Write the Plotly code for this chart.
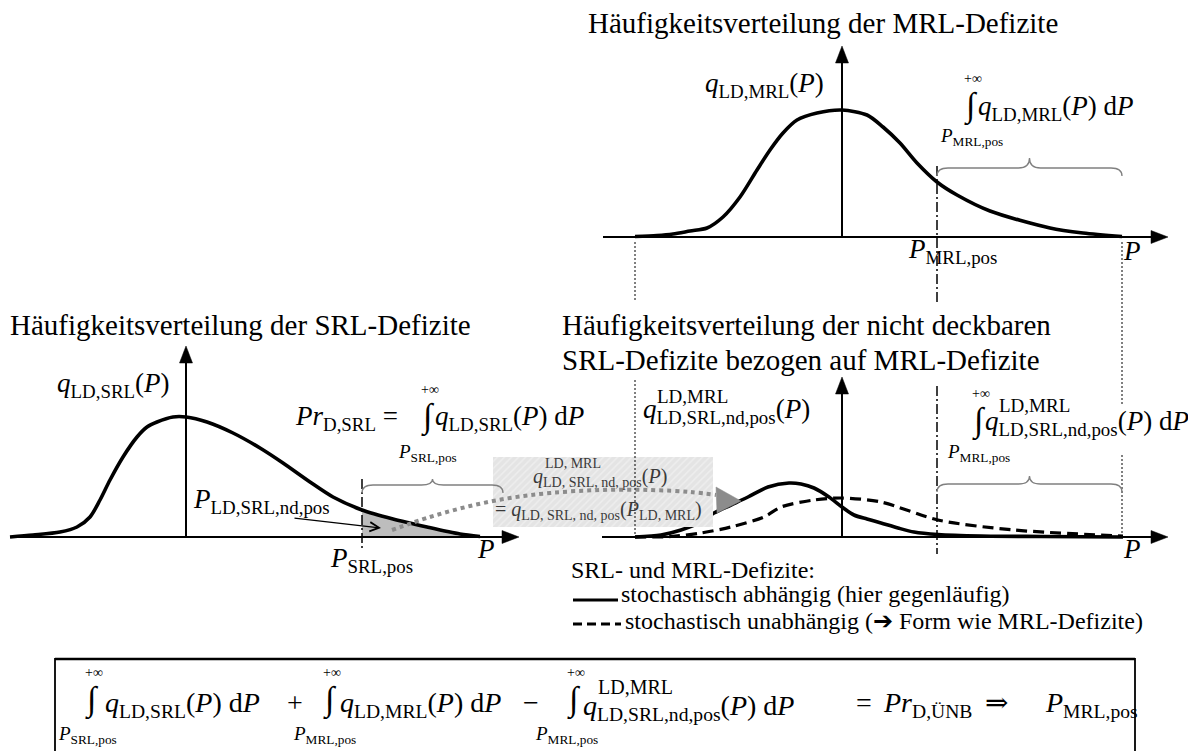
import plotly.graph_objects as go

W, H = 1188, 751
INK = "black"
GREY = "#808080"
BOXINK = "#3a3a3a"
FONT = "Liberation Serif, DejaVu Serif, serif"

# ---- distribution values (P in plot units, q relative frequency) ----
# MRL deficits
p_mrl = [-2.07, -1.85, -1.69, -1.52, -1.35, -1.19, -1.02, -0.85, -0.72, -0.59, -0.45,
         -0.25, 0.0, 0.25, 0.41, 0.58, 0.75, 0.95, 1.15, 1.48, 2.08, 2.41, 2.80]
q_mrl = [0.005, 0.015, 0.03, 0.06, 0.09, 0.20, 0.40, 0.67, 0.87, 1.04, 1.17,
         1.24, 1.27, 1.22, 1.10, 0.94, 0.74, 0.55, 0.42, 0.26, 0.09, 0.04, 0.005]

# SRL deficits
p_srl = [-1.76, -1.53, -1.26, -1.09, -0.96, -0.86, -0.76, -0.63, -0.49, -0.39, -0.29, -0.13,
         0.0, 0.21, 0.47, 0.74, 0.97, 1.24, 1.47, 1.76, 2.07, 2.41, 2.74, 2.94]
q_srl = [0.0, 0.02, 0.05, 0.10, 0.20, 0.37, 0.57, 0.80, 1.00, 1.10, 1.15, 1.20,
         1.20, 1.15, 1.04, 0.89, 0.74, 0.55, 0.40, 0.27, 0.18, 0.10, 0.03, 0.005]

# non-coverable SRL deficits related to MRL deficits, stochastically dependent
p_nd_dep = [-2.07, -1.81, -1.61, -1.41, -1.28, -1.11, -0.94, -0.74, -0.53, -0.41, -0.28,
            -0.13, 0.0, 0.12, 0.25, 0.39, 0.56, 0.72, 0.96, 1.39, 1.99, 2.81]
q_nd_dep = [0.0, 0.02, 0.07, 0.15, 0.24, 0.32, 0.40, 0.50, 0.54, 0.53, 0.49,
            0.40, 0.30, 0.22, 0.18, 0.14, 0.09, 0.05, 0.025, 0.01, 0.005, 0.0]

# ... and stochastically independent (shape like MRL deficits)
p_nd_ind = [-2.07, -1.71, -1.41, -1.11, -0.78, -0.61, -0.28, 0.0, 0.39, 0.96, 1.72, 2.81]
q_nd_ind = [0.0, 0.005, 0.04, 0.10, 0.20, 0.30, 0.37, 0.39, 0.35, 0.17, 0.07, 0.01]

P_SRL_POS = 1.76
P_MRL_POS = 0.95

# ---- panel frames: pixel origin of each P/q coordinate system ----
UNIT = 100
FR_MRL = (842, 237)
FR_SRL = (186, 537)
FR_ND = (842, 537)


def px(frame, p):
    return frame[0] + UNIT * p


def frame_axes(frame):
    ox, oy = frame
    xa = dict(domain=[0, 1], range=[-ox / UNIT, (W - ox) / UNIT], visible=False, fixedrange=True)
    ya = dict(domain=[0, 1], range=[(oy - H) / UNIT, oy / UNIT], visible=False, fixedrange=True)
    return xa, ya


fig = go.Figure()

# hatched box behind the transfer annotation
box = (493, 457, 713, 527)
fig.add_trace(go.Scatter(
    x=[box[0], box[2], box[2], box[0], box[0]], y=[box[1], box[1], box[3], box[3], box[1]],
    xaxis="x4", yaxis="y4", mode="lines", line=dict(width=0), fill="toself",
    fillcolor="#e9e9e9",
    fillpattern=dict(shape="/", fgcolor="#f7f7f7", bgcolor="#e4e4e4", size=5, solidity=0.3),
    hoverinfo="skip", showlegend=False))

# shaded tail of the SRL distribution beyond P_SRL,pos
tail_p = [p for p in p_srl if p >= P_SRL_POS]
tail_q = [q for p, q in zip(p_srl, q_srl) if p >= P_SRL_POS]
fig.add_trace(go.Scatter(x=tail_p, y=tail_q, xaxis="x2", yaxis="y2", mode="lines",
                         line=dict(width=0, shape="spline", smoothing=0.8), fill="tozeroy",
                         fillcolor="#bdbdbd", hoverinfo="skip", showlegend=False))

# curves
fig.add_trace(go.Scatter(x=p_mrl, y=q_mrl, xaxis="x", yaxis="y", mode="lines",
                         line=dict(color=INK, width=3.6, shape="spline", smoothing=0.8),
                         hoverinfo="skip", showlegend=False))
fig.add_trace(go.Scatter(x=p_srl, y=q_srl, xaxis="x2", yaxis="y2", mode="lines",
                         line=dict(color=INK, width=3.6, shape="spline", smoothing=0.8),
                         hoverinfo="skip", showlegend=False))
fig.add_trace(go.Scatter(x=p_nd_ind, y=q_nd_ind, xaxis="x3", yaxis="y3", mode="lines",
                         line=dict(color=INK, width=3.2, dash="11px,6px", shape="spline", smoothing=0.8),
                         hoverinfo="skip", showlegend=False))
fig.add_trace(go.Scatter(x=p_nd_dep, y=q_nd_dep, xaxis="x3", yaxis="y3", mode="lines",
                         line=dict(color=INK, width=3.6, shape="spline", smoothing=0.8),
                         hoverinfo="skip", showlegend=False))

# dotted grey transfer arrow (SRL tail -> dependent distribution)
arc_x = [392, 430, 470, 510, 550, 600, 650, 690, 716]
arc_y = [530, 517, 506, 498, 493, 490, 490, 492, 495]
fig.add_trace(go.Scatter(x=arc_x, y=arc_y, xaxis="x4", yaxis="y4", mode="lines",
                         line=dict(color="#8c8c8c", width=4, dash="dot", shape="spline"),
                         hoverinfo="skip", showlegend=False))

# legend line samples
fig.add_trace(go.Scatter(x=[573, 618], y=[600, 600], xaxis="x4", yaxis="y4", mode="lines",
                         line=dict(color=INK, width=3), hoverinfo="skip", showlegend=False))
fig.add_trace(go.Scatter(x=[573, 621], y=[624, 624], xaxis="x4", yaxis="y4", mode="lines",
                         line=dict(color=INK, width=3, dash="9px,5px"), hoverinfo="skip",
                         showlegend=False))

shapes = []


def seg(x0, y0, x1, y1, width=2, color=INK, dash=None):
    d = dict(type="line", xref="x4", yref="y4", x0=x0, y0=y0, x1=x1, y1=y1,
             line=dict(color=color, width=width))
    if dash:
        d["line"]["dash"] = dash
    shapes.append(d)


def tri(pts, color=INK):
    path = "M" + " L".join(f"{x},{y}" for x, y in pts) + " Z"
    shapes.append(dict(type="path", xref="x4", yref="y4", path=path,
                       fillcolor=color, line=dict(color=color, width=0.5)))


def axes_cross(frame, x_left, x_tip, y_tip):
    ox, oy = frame
    seg(x_left, oy, x_tip - 14, oy, 2)
    tri([(x_tip, oy), (x_tip - 17, oy - 6.5), (x_tip - 17, oy + 6.5)])
    seg(ox, oy, ox, y_tip + 14, 2)
    tri([(ox, y_tip), (ox - 6.5, y_tip + 17), (ox + 6.5, y_tip + 17)])


axes_cross(FR_MRL, 603, 1168, 46)
axes_cross(FR_SRL, 10, 519, 346)
axes_cross(FR_ND, 602, 1168, 377)

# dash-dot markers of the positive limits
DASHDOT = "10px,3px,2px,3px"
x_mrl_pos = px(FR_MRL, P_MRL_POS)
x_srl_pos = px(FR_SRL, P_SRL_POS)
seg(x_mrl_pos, 166, x_mrl_pos, 305, 1.5, dash=DASHDOT)
seg(x_mrl_pos, 386, x_mrl_pos, 554, 1.5, dash=DASHDOT)
seg(x_srl_pos, 479, x_srl_pos, 551, 1.5, dash=DASHDOT)

# dotted guides at the ends of the MRL support
x_lo = px(FR_MRL, p_mrl[0])
x_hi = px(FR_MRL, p_mrl[-1])
for a, b in [(242, 300), (380, 537)]:
    seg(x_lo, a, x_lo, b, 1, dash="2px,2px")
for a, b in [(242, 404), (455, 537)]:
    seg(x_hi, a, x_hi, b, 1, dash="2px,2px")


def brace(x0, x1, y_end, y_line, y_tip, r=11):
    xm = (x0 + x1) / 2
    path = (f"M{x0},{y_end} Q{x0},{y_line} {x0 + r},{y_line} L{xm - r},{y_line} "
            f"Q{xm},{y_line} {xm},{y_tip} Q{xm},{y_line} {xm + r},{y_line} "
            f"L{x1 - r},{y_line} Q{x1},{y_line} {x1},{y_end}")
    shapes.append(dict(type="path", xref="x4", yref="y4", path=path,
                       line=dict(color=GREY, width=1.3)))


brace(x_mrl_pos, x_hi, 176, 168, 158)
brace(x_srl_pos, 503, 493, 485, 479)
brace(x_mrl_pos, x_hi, 492, 484, 476)

# arrow head of the transfer arrow
tri([(741, 501), (716, 487), (717, 513)], color="#8c8c8c")

# formula frame
shapes.append(dict(type="rect", xref="x4", yref="y4", x0=55, y0=659, x1=1135, y1=770,
                   line=dict(color=INK, width=1.8)))
seg(55, 659, 1135, 659, 2.6)

annotations = []


def sub(t):
    return f"<span style='font-size:70%;baseline-shift:-0.3em'>{t}</span>"


def label(x, base, html, size, color=INK):
    has_sub = "baseline-shift" in html
    top = base - 0.891 * size
    bot = base + (0.361 if has_sub else 0.216) * size
    annotations.append(dict(x=x - 2, y=(top + bot) / 2, xref="x4", yref="y4", text=html,
                            showarrow=False, xanchor="left", yanchor="middle",
                            font=dict(family=FONT, size=size, color=color)))


def centred(x, y, html, size, color=INK):
    annotations.append(dict(x=x, y=y, xref="x4", yref="y4", text=html, showarrow=False,
                            xanchor="center", yanchor="middle",
                            font=dict(family=FONT, size=size, color=color)))


def integral(x, y_mid, lower, x_lower, y_lower):
    centred(x + 2, y_mid - 28, "+∞", 14)
    centred(x, y_mid, "∫", 34)
    label(x_lower, y_lower, lower, 19)


T, S, s, F = 29, 27, 19, 28
Q_MRL = "<i>q</i>" + sub("LD,MRL") + "(<i>P</i>)"
Q_SRL = "<i>q</i>" + sub("LD,SRL") + "(<i>P</i>)"
Q_ND = "<i>q</i>" + sub("LD,SRL,nd,pos") + "(<i>P</i>)"
P_MRL_LBL = "<i>P</i>" + sub("MRL,pos")
P_SRL_LBL = "<i>P</i>" + sub("SRL,pos")

# top panel: MRL deficits
label(588, 33, "Häufigkeitsverteilung der MRL-Defizite", T)
label(705, 92, Q_MRL, S)
integral(971, 106, P_MRL_LBL, 940, 142)
label(978, 115, Q_MRL + " d<i>P</i>", S)
label(908, 258, P_MRL_LBL, S)
label(1123, 260, "<i>P</i>", S)

# lower left panel: SRL deficits
label(10, 335, "Häufigkeitsverteilung der SRL-Defizite", T)
label(57, 392, Q_SRL, S)
label(295, 425, "<i>Pr</i>" + sub("D,SRL") + " =", S)
integral(428, 417, P_SRL_LBL, 398, 458)
label(435, 425, Q_SRL + " d<i>P</i>", S)
label(193, 508, "<i>P</i>" + sub("LD,SRL,nd,pos"), S)
label(330, 567, P_SRL_LBL, S)
label(477, 558, "<i>P</i>", S)
annotations.append(dict(x=381, y=528, ax=293, ay=518, xref="x4", yref="y4", axref="x4",
                        ayref="y4", text="", showarrow=True, arrowhead=5, arrowsize=1.3,
                        arrowwidth=1.4, arrowcolor=INK))

# transfer annotation inside the hatched box
label(533, 483, "<i>q</i>" + sub("LD, SRL, nd, pos") + "(<i>P</i>)", 20, BOXINK)
label(545, 468, "LD, MRL", 14, BOXINK)
label(495, 516, "= <i>q</i>" + sub("LD, SRL, nd, pos") + "(<i>P</i>" + sub("LD, MRL") + ")",
      20, BOXINK)

# lower right panel: non-coverable SRL deficits
label(562, 335, "Häufigkeitsverteilung der nicht deckbaren", T)
label(562, 370, "SRL-Defizite bezogen auf MRL-Defizite", T)
label(643, 418, Q_ND, S)
label(657, 403, "LD,MRL", 19)
integral(979, 421, P_MRL_LBL, 947, 458)
label(985, 430, Q_ND + " d<i>P</i>", S)
label(999, 412, "LD,MRL", 19)
label(1123, 558, "<i>P</i>", S)

# line style legend
label(571, 578, "SRL- und MRL-Defizite:", 24)
label(621, 602, "stochastisch abhängig (hier gegenläufig)", 24)
label(625, 629, "stochastisch unabhängig (➔ Form wie MRL-Defizite)", 24)

# balance equation
integral(92, 700, P_SRL_LBL, 58, 740)
label(105, 712, Q_SRL + " d<i>P</i>", F)
label(287, 712, "+", F)
integral(330, 700, P_MRL_LBL, 293, 740)
label(340, 712, Q_MRL + " d<i>P</i>", F)
label(523, 712, "−", F)
integral(574, 700, P_MRL_LBL, 535, 740)
label(583, 715, Q_ND + " d<i>P</i>", F)
label(598, 694, "LD,MRL", 20)
label(856, 712, "=", F)
label(883, 712, "<i>Pr</i>" + sub("D,ÜNB"), F)
label(985, 712, "⇒", F)
label(1045, 712, P_MRL_LBL, F)

xa1, ya1 = frame_axes(FR_MRL)
xa2, ya2 = frame_axes(FR_SRL)
xa3, ya3 = frame_axes(FR_ND)
page_x = dict(domain=[0, 1], range=[0, W], visible=False, fixedrange=True)
page_y = dict(domain=[0, 1], range=[H, 0], visible=False, fixedrange=True)

fig.update_layout(
    width=W, height=H, autosize=False,
    margin=dict(l=0, r=0, t=0, b=0),
    paper_bgcolor="white", plot_bgcolor="rgba(0,0,0,0)",
    showlegend=False,
    font=dict(family=FONT, size=S, color=INK),
    xaxis=dict(xa1, anchor="y"), yaxis=dict(ya1, anchor="x"),
    xaxis2=dict(xa2, anchor="y2"), yaxis2=dict(ya2, anchor="x2"),
    xaxis3=dict(xa3, anchor="y3"), yaxis3=dict(ya3, anchor="x3"),
    xaxis4=dict(page_x, anchor="y4"), yaxis4=dict(page_y, anchor="x4"),
    shapes=shapes,
    annotations=annotations,
)

fig.write_html("out.html", config={"displayModeBar": False})
